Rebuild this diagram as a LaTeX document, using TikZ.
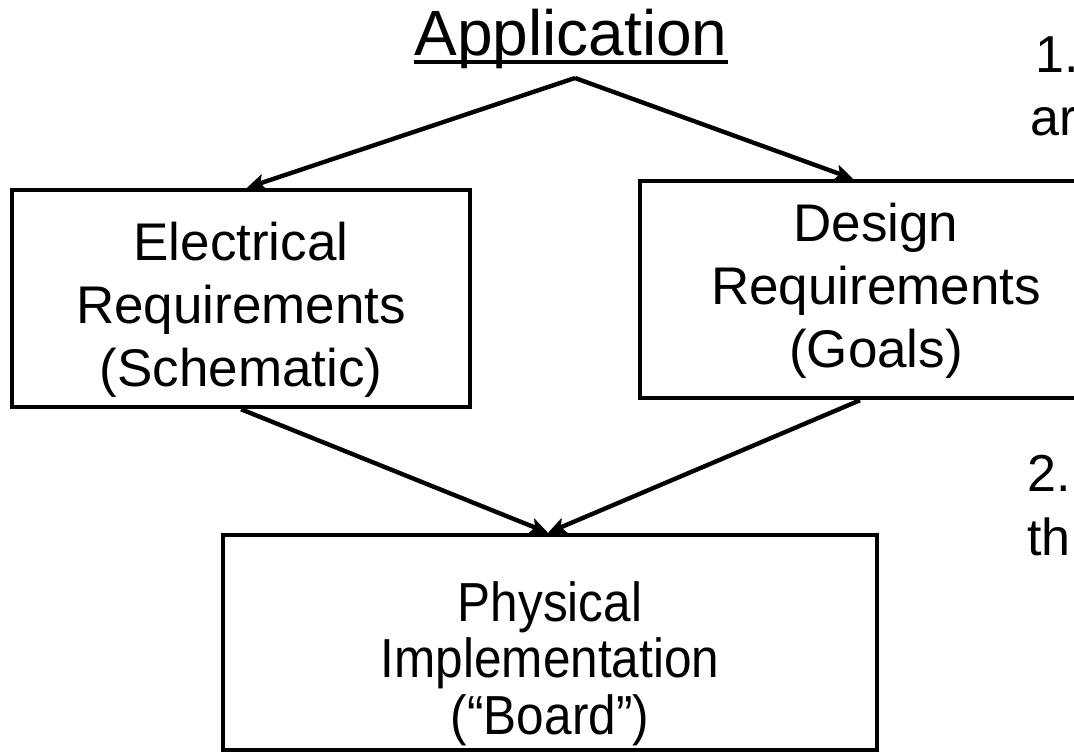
\documentclass[tikz,border=0pt]{standalone}
\usepackage{fontspec}
\setmainfont{Liberation Sans}
\newfontfamily\narrowsans[FakeStretch=0.9,Ligatures=TeX]{Liberation Sans}
\usetikzlibrary{arrows.meta,calc}

\tikzset{
  block/.style={draw, line width=4.5pt, inner sep=0pt},
  boxtext/.style={align=center, inner sep=0pt,
                  font=\fontsize{53}{63}\selectfont},
  narrowtext/.style={align=center, inner sep=0pt,
                  font=\narrowsans\fontsize{55}{56.5}\selectfont},
  flow/.style={line width=4.4pt,
               -{Stealth[length=18pt,width=16pt,inset=4pt]}},
  sidetext/.style={anchor=base west, inner sep=0pt,
                   font=\fontsize{52}{61}\selectfont}
}

\begin{document}
\begin{tikzpicture}[x=1pt, y=-1pt]
  \useasboundingbox (0,0) rectangle (1074,753);
  \clip (0,0) rectangle (1074,753);

  % title
  \node (app) [anchor=base, inner sep=0pt, font=\fontsize{64}{70}\selectfont]
        at (571,55) {Application};
  \draw[line width=3.2pt] ([yshift=-7pt]app.base west) -- ([yshift=-7pt]app.base east);
  \coordinate (apex) at (575,78);

  % requirement boxes
  \node (elec) [block, minimum width=458pt, minimum height=217pt,
        label={[boxtext, yshift=-11pt]center:Electrical\\Requirements\\(Schematic)}]
        at (241,298.5) {};
  \node (design) [block, minimum width=472pt, minimum height=217pt,
        label={[boxtext, yshift=-1pt]center:Design\\Requirements\\(Goals)}]
        at (876,289.5) {};

  % implementation box
  \node (phys) [block, minimum width=654pt, minimum height=215pt,
        label={[narrowtext, yshift=-21pt]center:Physical\\Implementation\\(“Board”)}]
        at (550,642.5) {};

  % numbered notes on the right
  \node (n1) [sidetext] at (1035,72) {1.};
  \node (n1b) [sidetext] at (1030,135) {ar};
  \node (n2) [sidetext] at (1027,491) {2.};
  \node (n2b) [sidetext] at (1027,555) {th};

  % connectors
  \draw[flow] (apex) -- ([xshift=6pt]elec.north);
  \draw[flow] (apex) -- ([xshift=-23pt]design.north);
  \draw[flow] (elec.south) -- ([xshift=-2pt]phys.north);
  \draw[flow] ([xshift=-16pt]design.south) -- ([xshift=-2pt]phys.north);
\end{tikzpicture}
\end{document}
